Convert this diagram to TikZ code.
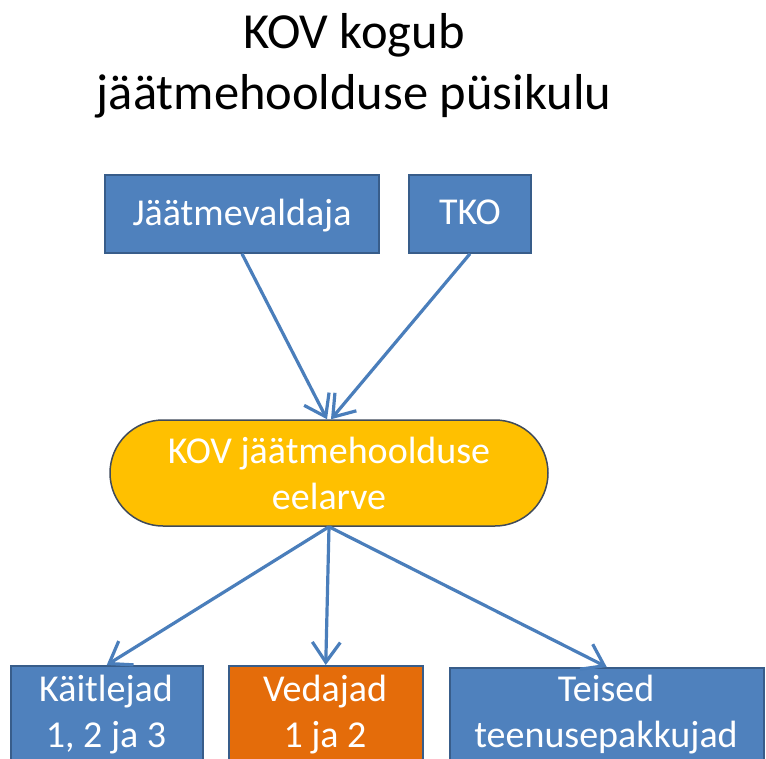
\documentclass[tikz,border=0pt]{standalone}
\usepackage{fontspec}
\setmainfont{Carlito}
\usetikzlibrary{arrows.meta,shapes.misc}
\definecolor{boxblue}{HTML}{4F81BD}
\definecolor{edgeblue}{HTML}{385D8A}
\definecolor{arrowblue}{HTML}{4A7EBB}
\definecolor{orng}{HTML}{E46C0A}
\definecolor{gold}{HTML}{FFC000}
\definecolor{ovaledge}{HTML}{3F4A5A}
\begin{document}
\begin{tikzpicture}[x=1pt,y=-1pt,
  bluebox/.style={draw=edgeblue, line width=1.5pt, fill=boxblue, inner sep=0pt},
  orangebox/.style={draw=edgeblue, line width=1.5pt, fill=orng, inner sep=0pt},
  boxtext/.style={text=white, font=\fontsize{38}{46}\selectfont, align=center, inner sep=0pt},
  flow/.style={draw=arrowblue, line width=3.2pt, -{Straight Barb[length=20pt,width=28pt]}}
]
\useasboundingbox (0,0) rectangle (766,758);
\clip (0,0) rectangle (766,758);
\node[font=\fontsize{50.5}{61}\selectfont, align=center, inner sep=0pt] (title) at (354,66) {KOV kogub\\jäätmehoolduse püsikulu};
% top boxes
\node[bluebox, boxtext, minimum width=274pt, minimum height=78pt, text depth=4pt] (jv) at (242,214) {Jäätmevaldaja};
\node[bluebox, boxtext, minimum width=122pt, minimum height=78pt, text depth=4pt] (tko) at (470,214) {TKO};
% budget
\node[rounded rectangle, draw=ovaledge, line width=1.5pt, fill=gold, boxtext, minimum width=438pt, minimum height=106pt] (kov) at (329,473) {KOV jäätmehoolduse\\eelarve};
% bottom boxes
\node[bluebox, anchor=north west, minimum width=192pt, minimum height=120pt] (k) at (10,665) {};
\node[orangebox, anchor=north west, minimum width=194pt, minimum height=120pt] (v) at (228,665) {};
\node[bluebox, anchor=north west, minimum width=314pt, minimum height=120pt] (t) at (449,667) {};
\node[boxtext, anchor=north] (kt) at (106,675) {Käitlejad\\1, 2 ja 3};
\node[boxtext, anchor=north] (vt) at (325,675) {Vedajad\\1 ja 2};
\node[boxtext, anchor=north] (tt) at (606,675) {Teised\\teenusepakkujad};
% connectors
\draw[flow] (jv.south) -- ([xshift=-2pt]kov.north);
\draw[flow] (tko.south) -- ([xshift=2pt]kov.north);
\draw[flow] (kov.south) -- (k.north);
\draw[flow] (kov.south) -- (v.north);
\draw[flow] (kov.south) -- (t.north);
\end{tikzpicture}
\end{document}
